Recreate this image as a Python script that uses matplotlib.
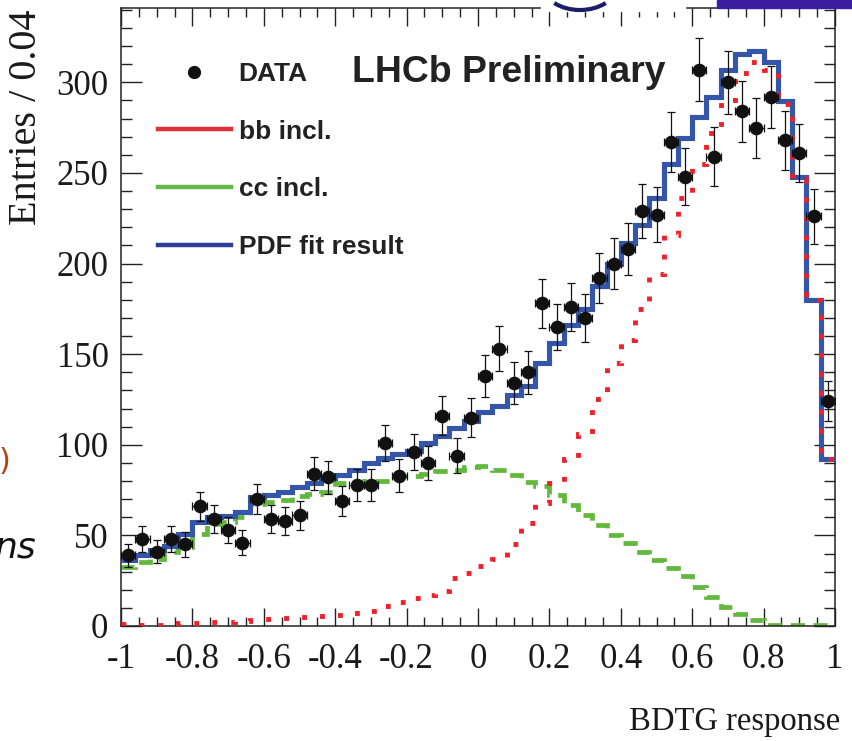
"""
BDTG response for LHCb preliminary: data vs bb / cc inclusive templates and the PDF fit.
"""
import numpy as np
import matplotlib
matplotlib.use("Agg")
import matplotlib.pyplot as plt
from matplotlib.lines import Line2D
from matplotlib.patches import Rectangle, Arc
from matplotlib.ticker import MultipleLocator, FuncFormatter

# 50 bins of width 0.04 on [-1, 1]
bin_lo, bin_hi, n_bins = -1.0, 1.0, 50

data_counts = [39, 48, 41, 48, 45, 66, 59, 53, 46, 70,
               59, 58, 61, 84, 82, 69, 78, 78, 101, 83,
               96, 90, 116, 94, 115, 138, 153, 134, 140, 178,
               165, 176, 170, 192, 200, 208, 229, 227, 267, 248,
               307, 259, 300, 284, 275, 292, 268, 261, 226, 124]

pdf_fit = [36.5, 39, 42, 44, 51, 57.6, 60, 60.5, 63, 71.4,
           72.4, 74.2, 76.8, 78.8, 81.6, 83.4, 86.2, 89.9, 92.6, 95,
           96.3, 100.9, 105, 109.2, 113, 118, 121.5, 127.2, 132.2, 144.9,
           156, 166, 174.8, 187.5, 200, 211.2, 221, 236, 255, 269.4,
           281, 292, 306.8, 315.5, 317.3, 311, 289.7, 247.7, 180, 92.3]

bb_incl = [1.2, 0.8, 0.8, 1.2, 1.8, 1.8, 2.0, 2.2, 2.8, 3.4,
           4.1, 4.5, 4.8, 5.3, 5.6, 6.1, 7.0, 8.5, 11, 13.5,
           15.3, 17, 19.5, 26.5, 29.5, 33, 37, 45, 57, 67.6,
           79, 92, 106, 125, 145, 158, 175, 194, 216, 236,
           255, 272, 290, 305, 311, 307, 288, 247, 180, 92]

cc_incl = [32.5, 35.5, 37, 41, 43.5, 51, 56.5, 57.5, 60.4, 67.4,
           68.5, 69.6, 72, 73, 74, 79, 79.5, 80, 80, 82.5,
           83, 84, 85.3, 86, 88, 88.5, 86.2, 83.4, 79.7, 77,
           72.4, 66.9, 61.3, 55.8, 50.3, 45.7, 41.1, 36.5, 32.2, 27.6,
           21.4, 16.2, 10.7, 6.6, 3.3, 0.8, 0.5, 0.4, 0.3, 0.3]

legend_labels = ["DATA", "bb incl.", "cc incl.", "PDF fit result"]

edges = np.linspace(bin_lo, bin_hi, n_bins + 1)
centres = 0.5 * (edges[:-1] + edges[1:])
half_width = 0.5 * (edges[1] - edges[0])
counts = np.array(data_counts, dtype=float)

serif = ["Liberation Serif", "DejaVu Serif"]
sans = ["Liberation Sans", "DejaVu Sans"]


def tick_fmt(v, pos):
    v = round(v, 3)
    if v == 0:
        return "0"
    return f"{v:g}"


fig = plt.figure(figsize=(8.52, 7.41), dpi=100)
ax = fig.add_axes([121 / 852, 1 - 626 / 741, 714 / 852, 618 / 741])

red = "#f0202a"
green = "#62b83a"
blue = "#3556a8"

ax.stairs(cc_incl, edges, baseline=None, color=green, lw=3.4, linestyle=(0, (3.0, 1.8)), zorder=2)
ax.stairs(pdf_fit, edges, baseline=None, color=blue, lw=3.7, zorder=3)
ax.stairs(bb_incl, edges, baseline=None, color=red, lw=3.5, linestyle=(0, (1.0, 2.9)), zorder=4)
# Poisson errors on the data points
ax.errorbar(centres, counts, yerr=np.sqrt(counts), xerr=half_width, fmt="o",
            color="#111111", ms=8.8, elinewidth=0.9, capsize=2.6, capthick=0.9, zorder=5)

ax.set_xlim(bin_lo, bin_hi)
ax.set_ylim(0, 341)
ax.xaxis.set_major_locator(MultipleLocator(0.2))
ax.xaxis.set_minor_locator(MultipleLocator(0.05))
ax.xaxis.set_major_formatter(FuncFormatter(tick_fmt))
ax.yaxis.set_major_locator(MultipleLocator(50))
ax.yaxis.set_minor_locator(MultipleLocator(10))
ax.tick_params(which="both", direction="in", top=True, right=True, width=1.0, color="#222222")
ax.tick_params(axis="x", which="major", length=13, pad=12)
ax.tick_params(axis="x", which="minor", length=6.5)
ax.tick_params(axis="y", which="major", length=15, pad=9)
ax.tick_params(axis="y", which="minor", length=8)
for lab in ax.get_xticklabels() + ax.get_yticklabels():
    lab.set_fontfamily(serif)
    lab.set_fontsize(25)
    lab.set_color("#1a1a1a")
for sp in ax.spines.values():
    sp.set_linewidth(1.1)
    sp.set_color("#222222")

ax.set_xlabel("BDTG response", family=serif, fontsize=23.5, color="#1a1a1a", loc="right")
ax.xaxis.set_label_coords(1.007, -0.13)
ax.set_ylabel("Entries / 0.04", family=serif, fontsize=29, color="#1a1a1a", loc="top")
ax.yaxis.set_label_coords(-0.106, 0.997)

handles = [
    Line2D([], [], marker="o", ls="none", color="#111111", ms=8.5),
    Line2D([], [], color="#e0303a", lw=3.2),
    Line2D([], [], color="#66b84a", lw=3.2),
    Line2D([], [], color="#2e3d96", lw=3.2),
]
leg = ax.legend(handles, legend_labels, loc="upper left", bbox_to_anchor=(0.052, 0.913),
                frameon=False, borderpad=0, borderaxespad=0, handlelength=2.75,
                handletextpad=0.3, labelspacing=1.28,
                prop={"family": sans, "weight": "bold", "size": 19})
for t in leg.get_texts():
    t.set_color("#222222")

ax.text(0.3235, 0.895, "LHCb Preliminary", transform=ax.transAxes, va="center", ha="left",
        family=sans, weight="bold", fontsize=26.9, color="#222222")

# bits of the surrounding slide caught in the crop
fig.text(10 / 852, 1 - 462 / 741, ")", ha="right", va="center", fontsize=22,
         color="#b4420c", family=["DejaVu Sans"])
fig.text(36 / 852, 1 - 548 / 741, "ns", ha="right", va="center", fontsize=26,
         style="italic", color="#111111", family=["DejaVu Sans"])
fig.patches.append(Rectangle((717 / 852, 1 - 8 / 741), 135 / 852, 8 / 741,
                             transform=fig.transFigure, color="#3c1e9e", zorder=5))
fig.patches.append(Rectangle((541 / 852, 1 - 11 / 741), 144 / 852, 11 / 741,
                             transform=fig.transFigure, color="white", zorder=5))
fig.patches.append(Arc((5.80, 7.56), 0.74, 0.50, theta1=215, theta2=325,
                       transform=fig.dpi_scale_trans, color="#1c1c6a", lw=3, zorder=6))

fig.savefig("out.png", dpi=100)
plt.close(fig)
